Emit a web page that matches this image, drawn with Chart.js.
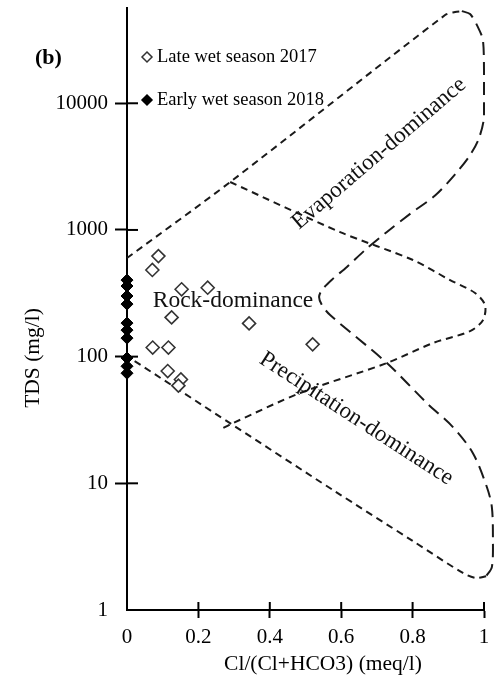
<!DOCTYPE html>
<html>
<head>
<meta charset="utf-8">
<script src="https://cdn.jsdelivr.net/npm/chart.js@4/dist/chart.umd.min.js"></script>
<style>
html,body{margin:0;padding:0;background:#fff;}
canvas{display:block;}
</style>
</head>
<body>
<canvas id="c" width="503" height="683"></canvas>
<script>
// ---- tick labels ----
const xTicks = [0, 0.2, 0.4, 0.6, 0.8, 1];
const yTicks = [1, 10, 100, 1000, 10000];

// ---- series: Late wet season 2017 (open diamonds) ----
const late2017X = [0.088, 0.071, 0.153, 0.226, 0.125, 0.072, 0.116, 0.114, 0.151, 0.144, 0.342, 0.520];
const late2017Y = [622, 483, 340, 350, 204, 118, 118, 77, 66, 59, 183, 125];

// ---- series: Early wet season 2018 (filled diamonds) ----
const early2018X = [0, 0, 0, 0, 0, 0, 0, 0, 0, 0];
const early2018Y = [402, 361, 301, 260, 184, 162, 140, 97.5, 84, 74];

// ---- Gibbs boundary curves ----
const upperX = [0, 0.289, 0.891, 0.919, 0.938];
const upperY = [600, 2390, 49700, 52500, 53400];

const outerX = [0.938, 0.961, 0.983, 0.997, 1.0, 1.0, 0.986, 0.961, 0.919, 0.863, 0.793, 0.728, 0.667, 0.616, 0.574, 0.546, 0.538, 0.546, 0.569, 0.728, 0.840, 0.913, 0.969, 1.008, 1.022, 1.025, 1.022, 1.006];
const outerY = [53400, 50600, 39900, 31500, 18300, 7780, 5310, 3900, 2750, 1870, 1340, 965, 695, 510, 405, 336, 295, 255, 213, 89, 43, 27.8, 17.3, 9.35, 6.50, 3.57, 2.18, 1.85];

const lowerX = [1.006, 0.978, 0.941, 0.801, 0.577, 0.297, 0];
const lowerY = [1.85, 1.79, 1.96, 3.50, 8.85, 28.8, 101];

const innerX = [0.289, 0.597, 0.801, 0.905, 0.975, 1.003, 0.997, 0.961, 0.857, 0.728, 0.485, 0.297, 0.269];
const innerY = [2390, 962, 579, 402, 318, 255, 194, 159, 128, 89, 51.6, 29.9, 27.3];

const seriesNames = ['Late wet season 2017', 'Early wet season 2018'];
const regionNames = ['Rock-dominance', 'Evaporation-dominance', 'Precipitation-dominance'];
const panelLabel = '(b)';
const xTitle = 'Cl/(Cl+HCO3) (meq/l)';
const yTitle = 'TDS (mg/l)';

const FONT = '"Liberation Serif", "Times New Roman", serif';
const pts = (xs, ys) => xs.map((x, i) => ({x: x, y: ys[i]}));

function boundary(xs, ys, dash, tension) {
  return {
    label: '', data: pts(xs, ys), showLine: true, pointRadius: 0, pointHoverRadius: 0,
    borderColor: '#1a1a1a', borderWidth: 2, borderDash: dash, tension: tension,
    fill: false, clip: false, order: 2
  };
}

function noPad(s) { s.paddingTop = 0; s.paddingBottom = 0; s.paddingLeft = 0; s.paddingRight = 0; }

const extras = {
  id: 'extras',
  afterDraw(chart) {
    const ctx = chart.ctx;
    const xs = chart.scales.x, ys = chart.scales.y;
    const ca = chart.chartArea;
    ctx.save();
    // inner halves of crossing ticks
    ctx.strokeStyle = '#000'; ctx.lineWidth = 2;
    yTicks.forEach(v => { if (v === 1) return; const p = ys.getPixelForValue(v);
      ctx.beginPath(); ctx.moveTo(ca.left, p); ctx.lineTo(ca.left + 11, p); ctx.stroke(); });
    xTicks.forEach(v => { if (v === 0) return; const p = xs.getPixelForValue(v);
      ctx.beginPath(); ctx.moveTo(p, ca.bottom); ctx.lineTo(p, ca.bottom - 8); ctx.stroke(); });

    ctx.fillStyle = '#000';
    // panel label
    ctx.font = 'bold 22px ' + FONT; ctx.textAlign = 'left'; ctx.textBaseline = 'middle';
    ctx.fillText(panelLabel, 35, 58);

    // legend
    const ds = chart.data.datasets;
    ctx.font = '18.5px ' + FONT;
    [[0, 147, 57], [1, 147, 100]].forEach(([i, x, y]) => {
      const d = ds[i];
      ctx.save();
      ctx.fillStyle = d.pointBackgroundColor; ctx.strokeStyle = d.pointBorderColor; ctx.lineWidth = 1.5;
      ctx.beginPath(); ctx.moveTo(x, y - 5); ctx.lineTo(x + 5, y); ctx.lineTo(x, y + 5); ctx.lineTo(x - 5, y); ctx.closePath();
      ctx.fill(); ctx.stroke(); ctx.restore();
      ctx.fillStyle = '#000'; ctx.textAlign = 'left'; ctx.textBaseline = 'middle';
      ctx.fillText(d.label, 157, y);
    });

    // region labels
    ctx.font = '23.5px ' + FONT; ctx.fillStyle = '#111';
    ctx.textAlign = 'center'; ctx.textBaseline = 'middle';
    ctx.fillText(regionNames[0], xs.getPixelForValue(0.297), ys.getPixelForValue(275));
    ctx.font = '23px ' + FONT;
    ctx.save();
    ctx.translate(xs.getPixelForValue(0.717), ys.getPixelForValue(3690));
    ctx.rotate(-40.5 * Math.PI / 180);
    ctx.textBaseline = 'alphabetic';
    ctx.fillText(regionNames[1], 0, 0);
    ctx.restore();
    ctx.save();
    ctx.translate(xs.getPixelForValue(0.633), ys.getPixelForValue(29.5));
    ctx.rotate(33 * Math.PI / 180);
    ctx.textBaseline = 'alphabetic';
    ctx.fillText(regionNames[2], 0, 0);
    ctx.restore();

    // axis titles
    ctx.font = '21.5px ' + FONT; ctx.fillStyle = '#000';
    ctx.textAlign = 'center'; ctx.textBaseline = 'middle';
    ctx.fillText(xTitle, 323, 664);
    ctx.save(); ctx.translate(33, 358); ctx.rotate(-Math.PI / 2);
    ctx.fillText(yTitle, 0, 0); ctx.restore();
    ctx.restore();
  }
};

new Chart(document.getElementById('c'), {
  type: 'scatter',
  data: {
    datasets: [
      {label: seriesNames[0], data: pts(late2017X, late2017Y), pointStyle: 'rectRot', pointRadius: 6.5,
       pointBackgroundColor: '#ffffff', pointBorderColor: '#333333', pointBorderWidth: 1.6, order: 0, clip: false},
      {label: seriesNames[1], data: pts(early2018X, early2018Y), pointStyle: 'rectRot', pointRadius: 6,
       pointBackgroundColor: '#000000', pointBorderColor: '#000000', pointBorderWidth: 1, order: 0, clip: false},
      boundary(upperX, upperY, [7, 5], 0.3),
      boundary(outerX, outerY, [13, 7], 0.3),
      boundary(lowerX, lowerY, [7, 5], 0.3),
      boundary(innerX, innerY, [7, 5], 0.3)
    ]
  },
  options: {
    responsive: false, animation: false, devicePixelRatio: 1,
    layout: {padding: {top: 8, right: 19, left: 0, bottom: 0}},
    plugins: {legend: {display: false}, tooltip: {enabled: false}},
    scales: {
      x: {
        type: 'linear', min: 0, max: 1,
        afterBuildTicks: s => { s.ticks = xTicks.map(v => ({value: v})); },
        afterFit: s => { s.height = 73; noPad(s); },
        ticks: {callback: v => String(Math.round(v * 10) / 10), font: {family: FONT, size: 21}, color: '#000', padding: 7, maxRotation: 0},
        grid: {drawOnChartArea: false, drawTicks: true, tickLength: 8, tickWidth: 2,
               tickColor: c => (c.tick && c.tick.value === 0) ? 'rgba(0,0,0,0)' : '#000'},
        border: {display: true, color: '#000', width: 2}
      },
      y: {
        type: 'logarithmic', min: 1, max: 56400,
        afterBuildTicks: s => { s.ticks = yTicks.map(v => ({value: v})); },
        afterFit: s => { s.width = 127; noPad(s); },
        ticks: {callback: v => String(v), font: {family: FONT, size: 21}, color: '#000', padding: 7},
        grid: {drawOnChartArea: false, drawTicks: true, tickLength: 12, tickWidth: 2,
               tickColor: c => (c.tick && c.tick.value === 1) ? 'rgba(0,0,0,0)' : '#000'},
        border: {display: true, color: '#000', width: 2}
      }
    }
  },
  plugins: [extras]
});
</script>
</body>
</html>
